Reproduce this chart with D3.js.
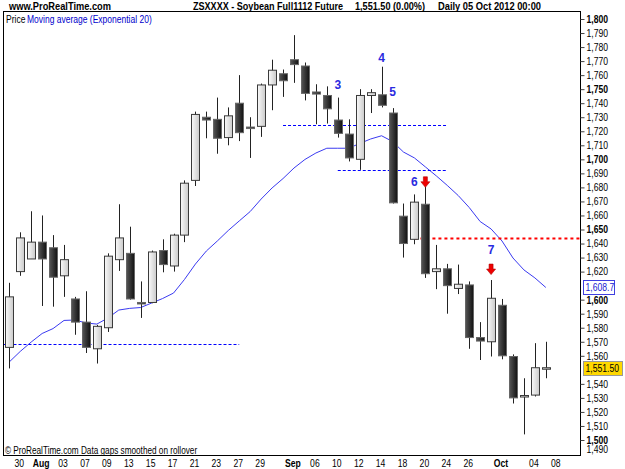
<!DOCTYPE html>
<html>
<head>
<meta charset="utf-8">
<script src="https://cdn.jsdelivr.net/npm/d3@7"></script>
<style>
  body { margin: 0; background: #fff; }
  text { font-family: "Liberation Sans", Arial, sans-serif; }
</style>
</head>
<body>
<svg id="chart" width="625" height="469"></svg>
<script>
// daily bars, Jul 27 .. Oct 05 2012 (last slot Oct 08 is empty)
var dates = ["Jul 27","Jul 30","Jul 31","Aug 01","Aug 02","Aug 03","Aug 06","Aug 07","Aug 08","Aug 09",
             "Aug 10","Aug 13","Aug 14","Aug 15","Aug 16","Aug 17","Aug 20","Aug 21","Aug 22","Aug 23",
             "Aug 24","Aug 27","Aug 28","Aug 29","Aug 30","Aug 31","Sep 04","Sep 05","Sep 06","Sep 07",
             "Sep 10","Sep 11","Sep 12","Sep 13","Sep 14","Sep 17","Sep 18","Sep 19","Sep 20","Sep 21",
             "Sep 24","Sep 25","Sep 26","Sep 27","Sep 28","Oct 01","Oct 02","Oct 03","Oct 04","Oct 05"];
var opens  = [1566,1620,1629,1641,1637,1617,1600.5,1584,1565,1580,
              1628.5,1633,1598,1598,1635,1624,1646,1685,1730,1728.5,
              1715.5,1740,1723,1723.5,1753,1761,1771,1766.5,1748,1745.5,
              1728,1718,1700,1745.5,1746,1733,1659.5,1643,1668,1620,
              1622,1608,1610.5,1573,1570,1596,1559.5,1531.5,1532,1551.5];
var highs  = [1612,1648,1663,1660,1646,1639,1602,1606,1582,1633,
              1668,1652,1613,1635,1643,1647,1685,1734,1734,1744,
              1737,1760,1730,1754,1771,1764,1788.5,1769,1753.5,1752,
              1744,1728.5,1750,1750,1766,1736.5,1668.5,1675,1680.5,1639,
              1625.5,1625,1613,1584,1614,1600.5,1561,1544,1569,1570];
var lows   = [1551,1617,1629,1595.5,1595,1602,1575,1562,1554.5,1577,
              1620.5,1600,1587,1597.5,1619.5,1620,1641,1681,1715,1704,
              1710,1713,1701,1716,1735,1744.5,1754.5,1742,1725,1725.5,
              1715.5,1698.5,1692.5,1733,1737,1668.5,1630,1639.5,1615.5,1607.5,
              1590,1604,1565,1557,1559.5,1557.5,1526,1504,1531,1544];
var closes = [1602,1644,1641,1629,1616,1628.5,1584,1566,1581,1631,
              1644,1600.5,1597,1634,1625,1646,1683,1732,1728,1715,
              1731,1719,1722,1753,1763.5,1756,1767.5,1747,1746.5,1736,
              1718.5,1701,1745.5,1747.5,1738.5,1669,1640,1669.5,1618.5,1622,
              1610,1611,1573,1570.5,1601,1560,1530,1531.7,1551.5,1551.5];
var ema20  = [1555.6,1563.1,1569.8,1575.9,1579.4,1585.2,1585.5,1583.4,1582.6,1586.9,
              1592.6,1593.8,1594.4,1597.6,1600.8,1604.7,1614.4,1625.4,1634.7,1641.8,
              1649.3,1656.1,1662.8,1671.7,1679.6,1686.3,1693.8,1699.9,1704.5,1707.9,
              1707.9,1707.9,1711.3,1714.5,1716.8,1712.7,1705.2,1701.0,1694.6,1688.2,
              1681.4,1674.2,1665.7,1655.7,1650.4,1641.8,1629.7,1621.2,1615.5,1608.7];

var slots = dates.concat(["Oct 08"]);
var tickDates = ["Jul 30","Aug 01","Aug 03","Aug 07","Aug 09","Aug 13","Aug 15","Aug 17","Aug 21","Aug 23",
                 "Aug 27","Aug 29","Sep 04","Sep 06","Sep 10","Sep 12","Sep 14","Sep 18","Sep 20","Sep 24",
                 "Sep 26","Oct 01","Oct 04","Oct 08"];
var monthTicks = {"Aug 01": "Aug", "Sep 04": "Sep", "Oct 01": "Oct"};

// drawn support / resistance levels
var levelPrices = [1568.4, 1724.3, 1692.4, 1644];
var levelFrom   = [null, "Aug 31", "Sep 10", "Sep 19"];
var levelTo     = ["Aug 27", "Sep 24", "Sep 24", null];
var levelColors = ["#0000ff", "#0000ff", "#0000ff", "#ff0000"];

var noteLabels = ["3", "4", "5", "6", "7"];
var noteDates  = ["Sep 10", "Sep 14", "Sep 17", "Sep 19", "Sep 28"];
var notePrices = [1753, 1772.4, 1748, 1684, 1635.4];
var arrowDates  = ["Sep 20", "Sep 28"];
var arrowPrices = [1684, 1621.8];

var lastClose = 1551.5, lastEma = 1608.7;

var svg = d3.select("#chart");
var pL = 3.5, pT = 11.5, pR = 580.5, pB = 455.5;

var x = d3.scaleBand().domain(slots).range([3.8, 3.8 + slots.length * 10.95]);
var y = d3.scaleLinear().domain([1500, 1800]).range([440, 19]);
var cx = function (d) { return x(d) + x.bandwidth() / 2; };

function narrow(sel, k) {
  sel.each(function () {
    var w = this.getComputedTextLength();
    d3.select(this).attr("textLength", w * k).attr("lengthAdjust", "spacingAndGlyphs");
  });
}

var defs = svg.append("defs");
defs.append("clipPath").attr("id", "plot")
    .append("rect").attr("x", pL).attr("y", pT)
    .attr("width", pR - pL).attr("height", pB - pT);
var gw = defs.append("linearGradient").attr("id", "up");
gw.append("stop").attr("offset", "0%").attr("stop-color", "#fafafa");
gw.append("stop").attr("offset", "100%").attr("stop-color", "#cacaca");
var gb = defs.append("linearGradient").attr("id", "down");
gb.append("stop").attr("offset", "0%").attr("stop-color", "#555");
gb.append("stop").attr("offset", "100%").attr("stop-color", "#111");

// header
var header = [
  {t: "www.ProRealTime.com", x: 9, w: 102},
  {t: "ZSXXXX - Soybean Full1112 Future", x: 193, w: 150},
  {t: "1,551.50 (0.00%)", x: 355, w: 70},
  {t: "Daily  05 Oct 2012 00:00", x: 438, w: 103}
];
svg.selectAll(".hdr").data(header).enter().append("text")
    .attr("x", function (d) { return d.x; }).attr("y", 6)
    .attr("font-size", 10.5).attr("font-weight", "bold").attr("dy", "0.35em")
    .attr("textLength", function (d) { return d.w; })
    .attr("lengthAdjust", "spacingAndGlyphs")
    .text(function (d) { return d.t; });

var plot = svg.append("g").attr("clip-path", "url(#plot)");

// EMA
var line = d3.line()
    .x(function (d, i) { return cx(dates[i]); })
    .y(function (d) { return y(d); });
plot.append("path").datum(ema20)
    .attr("d", line).attr("fill", "none")
    .attr("stroke", "#3a3af0").attr("stroke-width", 1);

// levels
levelPrices.forEach(function (p, i) {
  var x0 = levelFrom[i] ? cx(levelFrom[i]) : pL;
  var x1 = levelTo[i] ? cx(levelTo[i]) : pR;
  var red = levelColors[i] === "#ff0000";
  plot.append("line")
      .attr("x1", x0).attr("x2", x1)
      .attr("y1", Math.round(y(p)) + 0.5).attr("y2", Math.round(y(p)) + 0.5)
      .attr("stroke", levelColors[i])
      .attr("stroke-width", red ? 2 : 1)
      .attr("stroke-dasharray", red ? "3,3" : "3,2");
});

// candles
var bars = plot.selectAll(".bar").data(dates).enter().append("g");
bars.append("line")
    .attr("x1", function (d) { return Math.round(cx(d)) + 0.5; })
    .attr("x2", function (d) { return Math.round(cx(d)) + 0.5; })
    .attr("y1", function (d, i) { return y(highs[i]); })
    .attr("y2", function (d, i) { return y(lows[i]); })
    .attr("stroke", "#222").attr("stroke-width", 1);
bars.append("rect")
    .attr("x", function (d) { return Math.round(cx(d)) - 3.5; })
    .attr("width", 8)
    .attr("y", function (d, i) { return y(Math.max(opens[i], closes[i])); })
    .attr("height", function (d, i) {
      return Math.max(1.5, Math.abs(y(opens[i]) - y(closes[i])));
    })
    .attr("fill", function (d, i) { return closes[i] >= opens[i] ? "url(#up)" : "url(#down)"; })
    .attr("stroke", function (d, i) { return closes[i] >= opens[i] ? "#3a3a3a" : "#666"; })
    .attr("stroke-width", 1);

// wave labels and arrows
svg.selectAll(".note").data(noteLabels).enter().append("text")
    .attr("x", function (d, i) { return cx(noteDates[i]); })
    .attr("y", function (d, i) { return y(notePrices[i]); })
    .attr("dy", "0.35em").attr("text-anchor", "middle")
    .attr("font-size", 12).attr("font-weight", "bold").attr("fill", "#2a2ae0")
    .text(function (d) { return d; });
svg.selectAll(".arrow").data(arrowDates).enter().append("path")
    .attr("transform", function (d, i) {
      return "translate(" + cx(d) + "," + y(arrowPrices[i]) + ")";
    })
    .attr("d", "M-2,-5 H2 V0 H4.5 L0,5.5 L-4.5,0 H-2 Z")
    .attr("fill", "#ee0000").attr("stroke", "#b00000").attr("stroke-width", 0.6);

// frame
svg.append("rect")
    .attr("x", pL).attr("y", pT)
    .attr("width", pR - pL).attr("height", pB - pT)
    .attr("fill", "none").attr("stroke", "#000").attr("stroke-width", 1);

// legend
svg.append("text").attr("x", 6).attr("y", 19).attr("dy", "0.35em")
    .attr("font-size", 10).attr("fill", "#000").text("Price").call(narrow, 0.85);
svg.append("text").attr("x", 27).attr("y", 19).attr("dy", "0.35em")
    .attr("font-size", 10).attr("fill", "#0000cc")
    .text("Moving average (Exponential 20)").call(narrow, 0.85);

svg.append("text").attr("x", 5).attr("y", 450).attr("dy", "0.35em")
    .attr("font-size", 10).attr("fill", "#000")
    .text("\u00a9 ProRealTime.com  Data gaps smoothed on rollover")
    .call(narrow, 0.82);

// y axis (1,550 and 1,610 sit under the value boxes)
var yTicks = d3.range(1490, 1801, 10).filter(function (v) { return v !== 1550 && v !== 1610; });
var gy = svg.append("g").attr("transform", "translate(" + pR + ",0)")
    .call(d3.axisRight(y).tickValues(yTicks)
      .tickSize(4).tickPadding(2).tickFormat(d3.format(",")));
gy.select(".domain").remove();
gy.selectAll(".tick line").attr("stroke", "#444");
gy.selectAll(".tick text")
    .attr("fill", "#000").attr("font-size", 10.5)
    .attr("font-weight", function (d) { return d % 50 === 0 ? "bold" : "normal"; })
    .call(narrow, 0.82);
gy.selectAll(".tick").filter(function (d) { return d === 1490; })
    .attr("transform", "translate(0,450)")
    .select("line").remove();

// last value boxes
function valueBox(v, label, fill, stroke, color, w) {
  var g = svg.append("g").attr("transform", "translate(583," + Math.round(y(v)) + ")");
  g.append("rect").attr("x", 0.5).attr("y", -6.5).attr("width", w)
      .attr("height", 14).attr("fill", fill).attr("stroke", stroke);
  g.append("text").attr("x", 2.5).attr("y", 0.5).attr("dy", "0.35em")
      .attr("font-size", 10.5).attr("fill", color).text(label).call(narrow, 0.82);
}
valueBox(lastEma, d3.format(",.1f")(lastEma), "#fff", "#4040e0", "#2020d0", 31);
valueBox(lastClose, d3.format(",.2f")(lastClose), "#ffd800", "#999", "#000", 39);

// x axis
var gx = svg.append("g").attr("transform", "translate(-1," + (pB + 1) + ")")
    .call(d3.axisBottom(x).tickValues(tickDates).tickSize(0).tickPadding(3)
      .tickFormat(function (d) { return monthTicks[d] || d.slice(4); }));
gx.select(".domain").remove();
gx.selectAll(".tick text")
    .attr("fill", "#000").attr("font-size", 10.5)
    .attr("font-weight", function (d) { return monthTicks[d] ? "bold" : "normal"; })
    .call(narrow, 0.82);
</script>
</body>
</html>
